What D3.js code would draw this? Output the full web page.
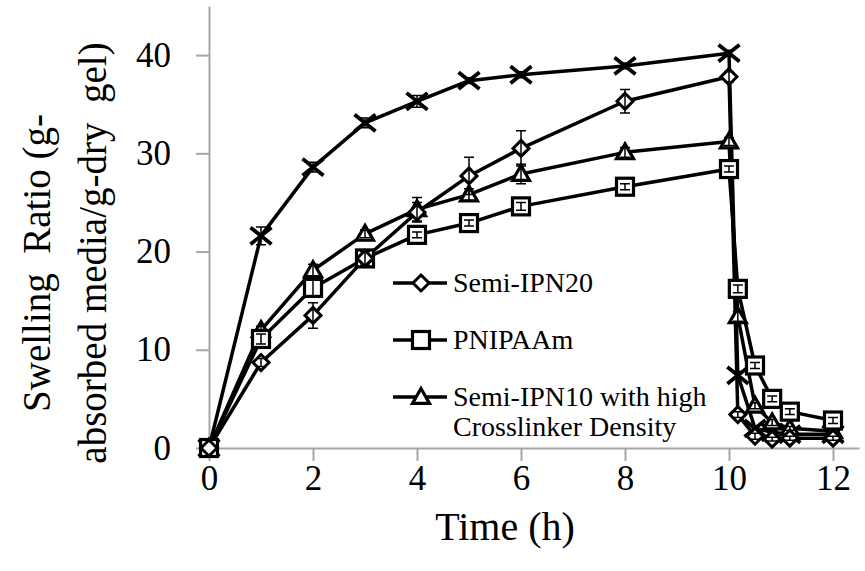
<!DOCTYPE html>
<html><head><meta charset="utf-8">
<script src="https://cdn.jsdelivr.net/npm/d3@7"></script>
<style>body{margin:0;background:#fff}svg{display:block}</style>
</head><body>
<script>
const times = [0,1,2,3,4,5,6,8,10,10.17,10.5,10.83,11.17,12];
const semiIPN20 = [0,8.7,13.5,19.3,24.0,27.7,30.5,35.3,37.8,3.4,1.2,0.9,1.0,1.0];
const semiIPN20Err = [0,0.4,1.3,0.8,1.0,1.9,1.8,1.2,0.5,0.3,0.3,0.2,0.2,0.2];
const pnipaam = [0,11.1,16.3,19.3,21.7,22.9,24.6,26.6,28.4,16.2,8.4,5.0,3.7,2.8];
const pnipaamErr = [0,0.5,0.9,0.7,0.3,0.3,0.4,0.3,0.3,0.4,0.3,0.3,0.3,0.3];
const semiIPN10 = [0,12.0,18.1,21.8,24.3,25.8,27.9,30.1,31.2,13.4,4.3,2.6,2.0,1.7];
const semiIPN10Err = [0,0.4,0.6,0.4,1.2,0.6,1.0,0.5,0.4,0.5,0.3,0.3,0.2,0.2];
const fourth = [0,21.6,28.6,33.1,35.3,37.4,38.0,38.9,40.2,7.4,2.0,1.6,1.4,1.4];
const fourthErr = [0,0.9,0.5,0.5,0.6,0.3,0.3,0.3,0.3,0.4,0.2,0.2,0.2,0.2];
const xTicks = [0,2,4,6,8,10,12];
const yTicks = [0,10,20,30,40];
const legendNames = ["Semi-IPN20","PNIPAAm","Semi-IPN10 with high","Crosslinker Density"];

const W=865,H=571;
const svg=d3.select("body").append("svg").attr("width",W).attr("height",H);
const x=d3.scaleLinear().domain([0,12.5]).range([209,859]);
const y=d3.scaleLinear().domain([0,45]).range([448,6]);
const font="'Liberation Serif','Times New Roman',serif";
const axisCol="#a6a6a6";

// axes
const gx=svg.append("g").attr("transform",`translate(0,${y(0)})`)
  .call(d3.axisBottom(x).tickValues(xTicks).tickSize(13).tickPadding(4).tickSizeOuter(0).tickFormat(d3.format("d")));
const gy=svg.append("g").attr("transform",`translate(${x(0)},0)`)
  .call(d3.axisLeft(y).tickValues(yTicks).tickSize(13).tickPadding(25).tickSizeOuter(0).tickFormat(d3.format("d")));
[gx,gy].forEach(g=>{
  g.select(".domain").attr("stroke",axisCol).attr("stroke-width",2);
  g.selectAll(".tick line").attr("stroke",axisCol).attr("stroke-width",2);
  g.selectAll(".tick text").attr("fill","#000").style("font-family",font).style("font-size","35px");
});

// titles
svg.append("text").attr("x",505).attr("y",540).attr("text-anchor","middle")
  .style("font-family",font).style("font-size","40px").text("Time (h)");
svg.append("text").attr("transform","translate(50,263) rotate(-90)").attr("text-anchor","middle")
  .style("font-family",font).style("font-size","39px").style("white-space","pre").text("Swelling  Ratio (g-");
svg.append("text").attr("transform","translate(106,253) rotate(-90)").attr("text-anchor","middle")
  .style("font-family",font).style("font-size","39px").style("white-space","pre").text("absorbed media/g-dry  gel)");

// marker drawing
function marker(g,type,cx,cy){
  if(type==="diamond"){
    const s=8;
    g.append("path").attr("d",`M${cx},${cy-s}L${cx+s},${cy}L${cx},${cy+s}L${cx-s},${cy}Z`)
      .attr("fill","#fff").attr("stroke","#000").attr("stroke-width",3);
  } else if(type==="square"){
    const s=8.5;
    g.append("rect").attr("x",cx-s).attr("y",cy-s).attr("width",2*s).attr("height",2*s)
      .attr("fill","#fff").attr("stroke","#000").attr("stroke-width",3.2);
  } else if(type==="triangle"){
    const s=8.5;
    g.append("path").attr("d",`M${cx},${cy-s}L${cx+s},${cy+s*0.75}L${cx-s},${cy+s*0.75}Z`)
      .attr("fill","#fff").attr("stroke","#000").attr("stroke-width",3.2);
  } else if(type==="x"){
    const s=10.5;
    g.append("path").attr("d",`M${cx-s},${cy-s*0.8}L${cx+s},${cy+s*0.8}M${cx-s},${cy+s*0.8}L${cx+s},${cy-s*0.8}`)
      .attr("fill","none").attr("stroke","#000").attr("stroke-width",3.8);
  }
}

const series=[
  {vals:fourth,err:fourthErr,type:"x"},
  {vals:semiIPN10,err:semiIPN10Err,type:"triangle"},
  {vals:pnipaam,err:pnipaamErr,type:"square"},
  {vals:semiIPN20,err:semiIPN20Err,type:"diamond"}
];
const line=d3.line().x(d=>x(d[0])).y(d=>y(d[1]));
const plot=svg.append("g");
series.forEach(s=>{
  const pts=times.map((t,i)=>[t,s.vals[i]]);
  plot.append("path").attr("d",line(pts)).attr("fill","none").attr("stroke","#000").attr("stroke-width",3.5).attr("stroke-linejoin","round");
});
series.forEach(s=>{
  const g=plot.append("g");
  times.forEach((t,i)=>marker(g,s.type,x(t),y(s.vals[i])));
  times.forEach((t,i)=>{
    if(!s.err[i]) return;
    const cx=x(t),y1=y(s.vals[i]+s.err[i]),y0=y(s.vals[i]-s.err[i]);
    g.append("path").attr("d",`M${cx},${y0}L${cx},${y1}M${cx-5},${y1}L${cx+5},${y1}M${cx-5},${y0}L${cx+5},${y0}`)
      .attr("stroke","#000").attr("stroke-width",1.5).attr("fill","none");
  });
});

// legend
const leg=svg.append("g");
const legRows=[{type:"diamond",y:283,name:legendNames[0]},{type:"square",y:340,name:legendNames[1]},{type:"triangle",y:397,name:legendNames[2]}];
legRows.forEach(r=>{
  leg.append("line").attr("x1",393).attr("x2",447).attr("y1",r.y).attr("y2",r.y).attr("stroke","#000").attr("stroke-width",3.5);
  marker(leg,r.type,421,r.y);
  leg.append("text").attr("x",453).attr("y",r.y+9).style("font-family",font).style("font-size","28px").text(r.name);
});
leg.append("text").attr("x",453).attr("y",397+39).style("font-family",font).style("font-size","28px").text(legendNames[3]);
</script>
</body></html>
